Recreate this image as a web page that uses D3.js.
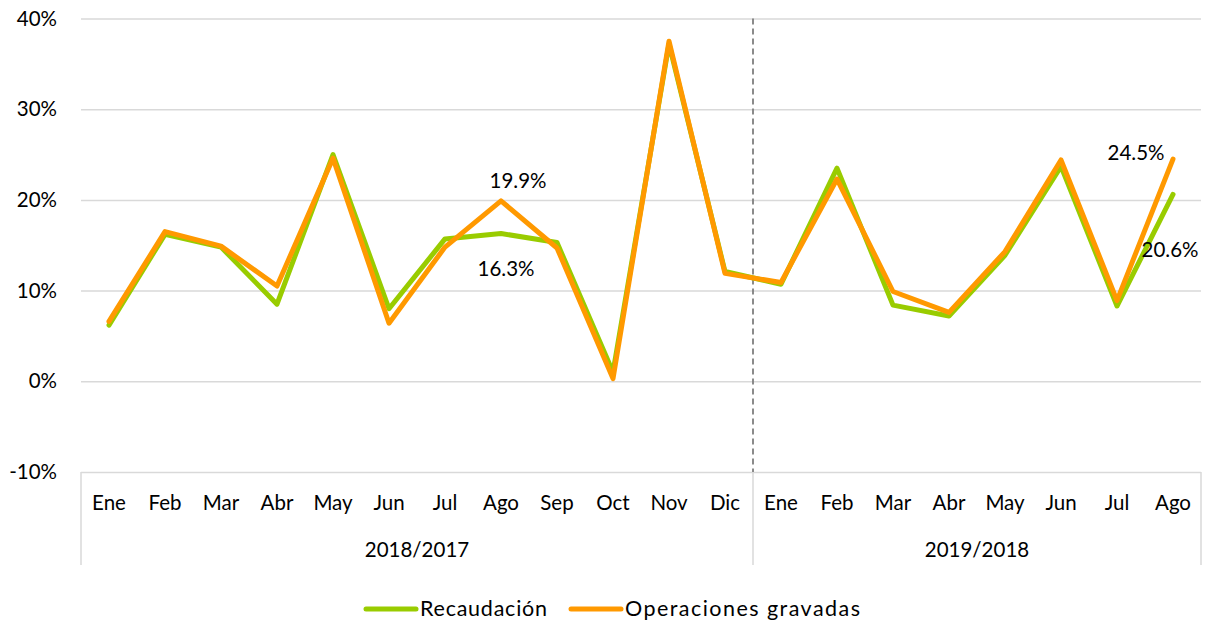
<!DOCTYPE html>
<html>
<head>
<meta charset="utf-8">
<script src="https://cdn.jsdelivr.net/npm/d3@7"></script>
<style>
  html, body { margin: 0; padding: 0; background: #fff; }
  svg text { font-family: Lato, "Open Sans", sans-serif; fill: #000; }
</style>
</head>
<body>
<svg id="chart" width="1208" height="624"></svg>
<script>
// Monthly year-over-year growth (%)
const months2018 = ["Ene","Feb","Mar","Abr","May","Jun","Jul","Ago","Sep","Oct","Nov","Dic"];
const months2019 = ["Ene","Feb","Mar","Abr","May","Jun","Jul","Ago"];
const periods = ["2018/2017", "2019/2018"];
const recaudacion = [6.2,16.2,14.8,8.5,25.0,8.0,15.7,16.3,15.3,1.0,37.2,12.1,
                     10.7,23.5,8.4,7.2,13.9,23.7,8.3,20.6];
const operaciones = [6.6,16.5,14.9,10.5,24.6,6.4,14.8,19.9,14.7,0.3,37.5,11.9,
                     10.9,22.3,9.9,7.6,14.3,24.4,8.9,24.5];
const yTicks = [-10, 0, 10, 20, 30, 40];
const seriesNames = ["Recaudación", "Operaciones gravadas"];
const seriesColors = ["#99cc00", "#ff9900"];

const monthLabels = months2018.concat(months2019);
const idx = d3.range(monthLabels.length);

const svg = d3.select("#chart");
const plotLeft = 81, plotRight = 1201, plotTop = 18.5, plotBottom = 472;

const x = d3.scaleBand().domain(idx).range([plotLeft, plotRight]);
const y = d3.scaleLinear().domain([-10, 40]).range([plotBottom, plotTop]);
const cx = i => x(i) + x.bandwidth() / 2;

// horizontal gridlines
const grid = svg.append("g")
  .attr("transform", `translate(${plotLeft},0)`)
  .call(d3.axisLeft(y).tickValues(yTicks).tickSize(-(plotRight - plotLeft)).tickFormat(""));
grid.select(".domain").remove();
grid.selectAll(".tick line").attr("stroke", "#d9d9d9").attr("stroke-width", 1.5);

// y tick labels
const yAxis = svg.append("g")
  .attr("transform", `translate(57,0)`)
  .call(d3.axisLeft(y).tickValues(yTicks).tickSize(0).tickPadding(0).tickFormat(d => d + "%"));
yAxis.select(".domain").remove();
yAxis.selectAll("text").attr("font-size", "20.5px").attr("font-family", "Lato, sans-serif");

// month labels
const xAxis = svg.append("g")
  .attr("transform", `translate(0,${plotBottom})`)
  .call(d3.axisBottom(x).tickSize(0).tickPadding(0).tickFormat(i => monthLabels[i]));
xAxis.select(".domain").remove();
xAxis.selectAll("text")
  .attr("font-size", "20.5px").attr("font-family", "Lato, sans-serif")
  .attr("dy", null).attr("y", 38);

// period boundaries below the axis
const splitIdx = [0, months2018.length, monthLabels.length];
const bx = k => k < monthLabels.length ? x(k) : plotRight;
svg.append("g").selectAll("line").data(splitIdx).join("line")
  .attr("x1", d => bx(d)).attr("x2", d => bx(d))
  .attr("y1", plotBottom).attr("y2", 565)
  .attr("stroke", "#d9d9d9").attr("stroke-width", 1.5);

// period labels
svg.append("g").selectAll("text").data(periods).join("text")
  .attr("x", (d, k) => (bx(splitIdx[k]) + bx(splitIdx[k + 1])) / 2)
  .attr("y", 557)
  .attr("text-anchor", "middle")
  .attr("font-size", "20.5px")
  .text(d => d);

// dashed separator between periods
svg.append("line")
  .attr("x1", x(months2018.length)).attr("x2", x(months2018.length))
  .attr("y1", plotTop).attr("y2", plotBottom)
  .attr("stroke", "#7f7f7f").attr("stroke-width", 1.8)
  .attr("stroke-dasharray", "6,4");

// series lines
const line = d3.line().x((d, i) => cx(i)).y(d => y(d));
[recaudacion, operaciones].forEach((vals, s) => {
  svg.append("path")
    .datum(vals)
    .attr("d", line)
    .attr("fill", "none")
    .attr("stroke", seriesColors[s])
    .attr("stroke-width", 5)
    .attr("stroke-linejoin", "round")
    .attr("stroke-linecap", "round");
});

// value labels for the last August of each period
const fmt = v => v.toFixed(1) + "%";
const ann = [
  { i: 7, v: operaciones[7], dx: 17, dy: -13 },
  { i: 7, v: recaudacion[7], dx: 5, dy: 43 },
  { i: 19, v: operaciones[19], dx: -37, dy: 1 },
  { i: 19, v: recaudacion[19], dx: -3, dy: 63 }
];
svg.append("g").selectAll("text").data(ann).join("text")
  .attr("x", d => cx(d.i) + d.dx)
  .attr("y", d => y(d.v) + d.dy)
  .attr("text-anchor", "middle")
  .attr("font-size", "20.5px")
  .text(d => fmt(d.v));

// legend
const legend = svg.append("g");
const legX = [366, 571];
const legTextWidth = [127, 235];
seriesNames.forEach((name, s) => {
  legend.append("line")
    .attr("x1", legX[s]).attr("x2", legX[s] + 50)
    .attr("y1", 609).attr("y2", 609)
    .attr("stroke", seriesColors[s]).attr("stroke-width", 5)
    .attr("stroke-linecap", "round");
  legend.append("text")
    .attr("x", legX[s] + 54).attr("y", 616)
    .attr("font-size", "21.5px")
    .attr("textLength", legTextWidth[s])
    .attr("lengthAdjust", "spacing")
    .text(name);
});
</script>
</body>
</html>
